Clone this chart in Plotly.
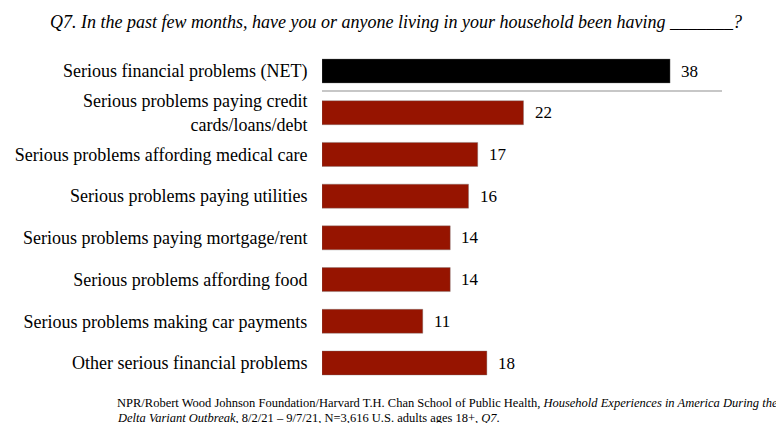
import plotly.graph_objects as go

categories = [
    "Serious financial problems (NET)",
    "Serious problems paying credit<br>cards/loans/debt",
    "Serious problems affording medical care",
    "Serious problems paying utilities",
    "Serious problems paying mortgage/rent",
    "Serious problems affording food",
    "Serious problems making car payments",
    "Other serious financial problems",
]
values = [38, 22, 17, 16, 14, 14, 11, 18]
bar_colors = ["#000000"] + ["#961400"] * 7

title_text = "Q7. In the past few months, have you or anyone living in your household been having _______?"
source_line1 = ("NPR/Robert Wood Johnson Foundation/Harvard T.H. Chan School of Public Health, "
                "<i>Household Experiences in America During the</i>")
source_line2 = "<i>Delta Variant Outbreak</i>, 8/2/21 – 9/7/21, N=3,616 U.S. adults ages 18+, <i>Q7</i>."

FONT = "Liberation Serif"
W, H = 776, 423
left = 322
px_per_unit = 9.16
pos = list(range(len(categories)))
y_top_px, y_step_px = 71, 41.71

fig = go.Figure(go.Bar(
    x=values, y=pos, orientation="h",
    marker=dict(color=bar_colors, line=dict(color="rgba(120,120,120,0.6)", width=0.6)),
    width=24 / y_step_px,
    hoverinfo="skip",
))

# value labels to the right of each bar
for v, p in zip(values, pos):
    fig.add_annotation(x=v, y=p, text=str(v), xanchor="left", yanchor="middle",
                       xshift=9, showarrow=False, font=dict(family=FONT, size=17, color="#000"))

# separator under the NET row
fig.add_shape(type="line", xref="x", yref="y",
              x0=(5 - left) / px_per_unit, x1=(722 - left) / px_per_unit,
              y0=(91 - y_top_px) / y_step_px, y1=(91 - y_top_px) / y_step_px,
              line=dict(color="#b4b4b4", width=1.5))

fig.add_annotation(xref="paper", yref="paper", x=(396 - left) / (W - left), y=1 - 22 / H,
                   text=f"<i>{title_text}</i>", showarrow=False, xanchor="center", yanchor="middle",
                   font=dict(family=FONT, size=18, color="#000"))
fig.add_annotation(xref="paper", yref="paper", x=(115 - left) / (W - left), y=1 - 403 / H,
                   text=source_line1, showarrow=False, xanchor="left", yanchor="middle",
                   font=dict(family=FONT, size=12.5, color="#000"))
fig.add_annotation(xref="paper", yref="paper", x=(115 - left) / (W - left), y=1 - 418 / H,
                   text=source_line2, showarrow=False, xanchor="left", yanchor="middle",
                   font=dict(family=FONT, size=12.5, color="#000"))

fig.update_layout(
    width=W, height=H,
    margin=dict(l=left, r=0, t=0, b=0),
    paper_bgcolor="white", plot_bgcolor="white",
    showlegend=False,
    xaxis=dict(range=[0, (W - left) / px_per_unit], visible=False, fixedrange=True),
    yaxis=dict(
        range=[pos[-1] + (H - 363) / y_step_px, -y_top_px / y_step_px],
        tickmode="array", tickvals=pos, ticktext=categories,
        ticks="outside", ticklen=10, tickcolor="rgba(0,0,0,0)",
        showgrid=False, zeroline=False, showline=False,
        tickfont=dict(family=FONT, size=18, color="#000"),
        fixedrange=True,
    ),
)

fig.write_html("out.html")
